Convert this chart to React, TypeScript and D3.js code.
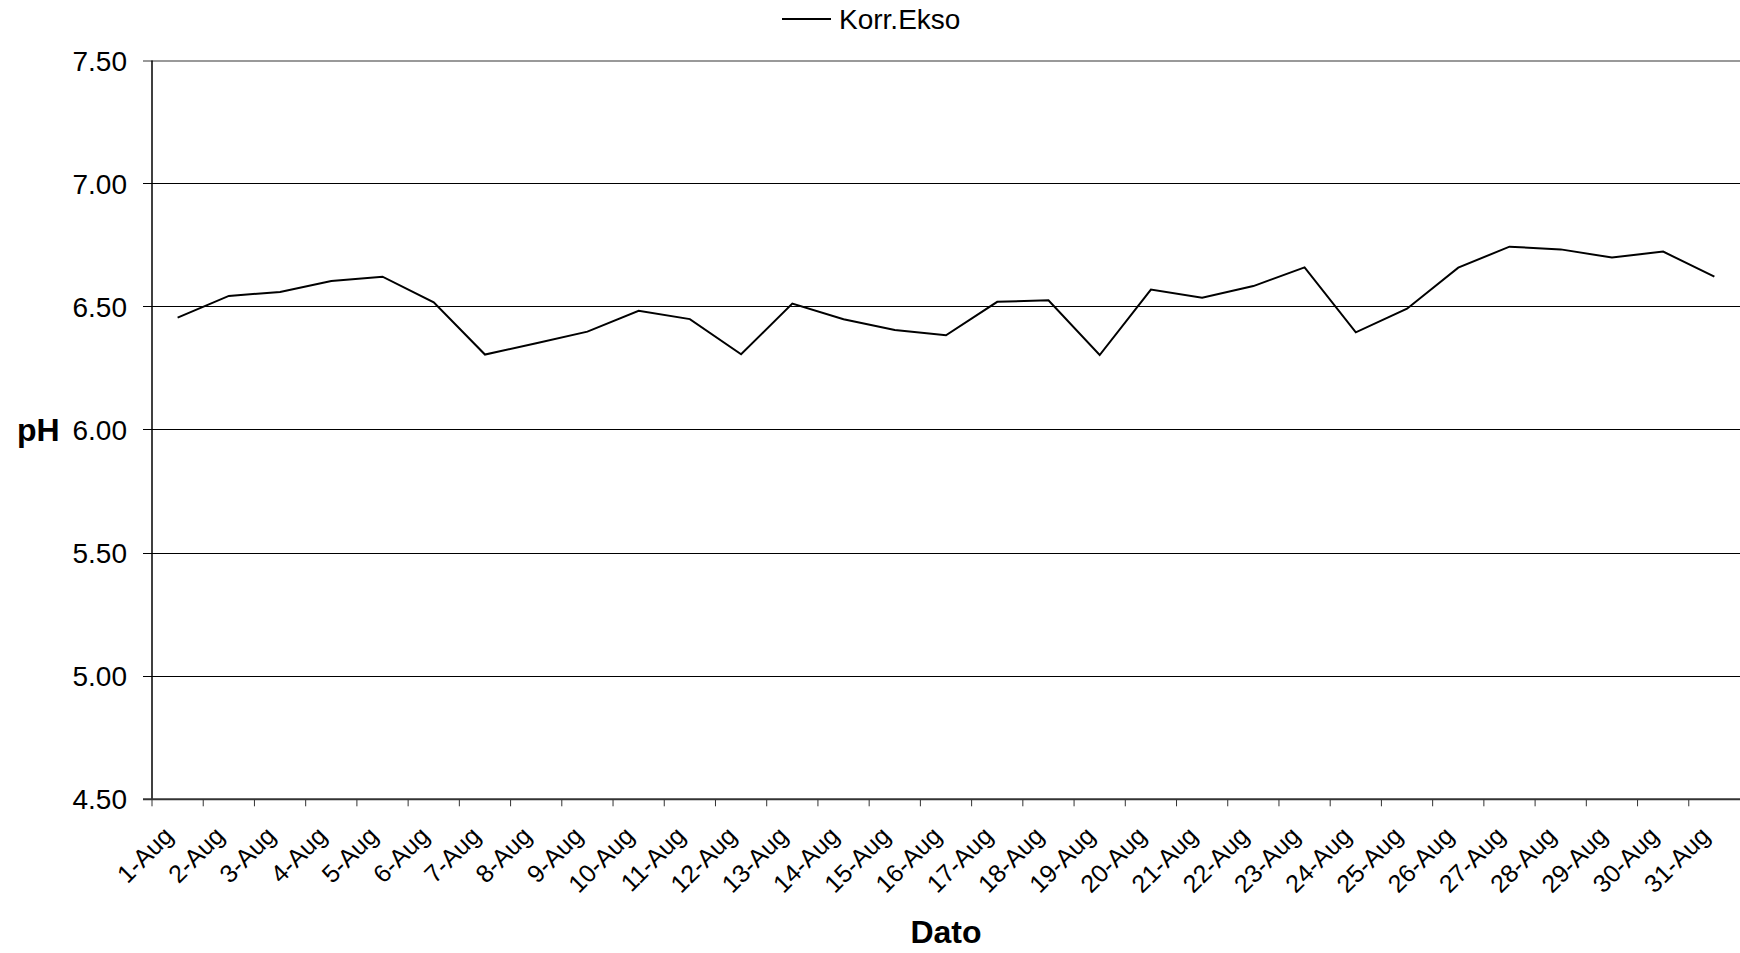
import React from "react";
import * as d3 from "d3";

const dates: string[] = [
  "1-Aug","2-Aug","3-Aug","4-Aug","5-Aug","6-Aug","7-Aug","8-Aug","9-Aug","10-Aug",
  "11-Aug","12-Aug","13-Aug","14-Aug","15-Aug","16-Aug","17-Aug","18-Aug","19-Aug","20-Aug",
  "21-Aug","22-Aug","23-Aug","24-Aug","25-Aug","26-Aug","27-Aug","28-Aug","29-Aug","30-Aug","31-Aug",
];
const korrEkso: number[] = [
  6.456, 6.544, 6.56, 6.605, 6.622, 6.518, 6.306, 6.352, 6.399, 6.484,
  6.45, 6.307, 6.513, 6.449, 6.406, 6.384, 6.52, 6.526, 6.304, 6.57,
  6.537, 6.584, 6.66, 6.396, 6.492, 6.659, 6.744, 6.733, 6.7, 6.724, 6.622,
];
const yTicks: number[] = [4.5, 5.0, 5.5, 6.0, 6.5, 7.0, 7.5];
const seriesName = "Korr.Ekso";
const xTitle = "Dato";
const yTitle = "pH";

const W = 1740;
const H = 953;
const left = 152;
const right = 1740;
const top = 60.5;
const bottom = 799.3;

export default function App() {
  const x = d3.scaleBand<string>().domain(dates).range([left, right]).padding(0);
  const y = d3.scaleLinear().domain([4.5, 7.5]).range([bottom, top]);
  const line = d3
    .line<number>()
    .x((_, i) => (x(dates[i]) as number) + x.bandwidth() / 2)
    .y((d) => y(d));
  const font = "Arial, 'Liberation Sans', Helvetica, sans-serif";
  return (
    <svg
      width={W}
      height={H}
      style={{ position: "absolute", left: 0, top: 0, background: "#fff" }}
      fontFamily={font}
    >
      {/* gridlines */}
      {yTicks.map((t) => (
        <line
          key={"g" + t}
          x1={left - 9}
          x2={right}
          y1={y(t)}
          y2={y(t)}
          stroke={t === 7.5 ? "#999" : "#000"}
          strokeWidth={t === 7.5 ? 2 : 1}
          shapeRendering="crispEdges"
        />
      ))}
      {/* y tick labels */}
      {yTicks.map((t) => (
        <text key={"yl" + t} x={127} y={y(t)} dy="0.36em" textAnchor="end" fontSize={28} fill="#000">
          {t.toFixed(2)}
        </text>
      ))}
      {/* y axis */}
      <line x1={left} x2={left} y1={top} y2={bottom} stroke="#000" strokeWidth={1.5} />
      {/* x axis */}
      <line x1={left - 9} x2={right} y1={bottom} y2={bottom} stroke="#333" strokeWidth={2} />
      {dates.map((d) => (
        <line
          key={"xt" + d}
          x1={x(d) as number}
          x2={x(d) as number}
          y1={bottom}
          y2={bottom + 7}
          stroke="#333"
          strokeWidth={1}
        />
      ))}
      {dates.map((d) => {
        const cx = (x(d) as number) + x.bandwidth() / 2;
        return (
          <text
            key={"xl" + d}
            transform={`translate(${cx - 3},${bottom + 38}) rotate(-45)`}
            textAnchor="end"
            fontSize={25}
            fill="#000"
          >
            {d}
          </text>
        );
      })}
      {/* series */}
      <path d={line(korrEkso) || ""} fill="none" stroke="#000" strokeWidth={2} />
      {/* legend */}
      <line x1={782} x2={831} y1={19} y2={19} stroke="#000" strokeWidth={2} />
      <text x={839} y={29} fontSize={28} fill="#000">{seriesName}</text>
      {/* titles */}
      <text x={(left + right) / 2} y={943} textAnchor="middle" fontSize={32} fontWeight="bold" fill="#000">
        {xTitle}
      </text>
      <text x={17} y={441} fontSize={32} fontWeight="bold" fill="#000">
        {yTitle}
      </text>
    </svg>
  );
}
